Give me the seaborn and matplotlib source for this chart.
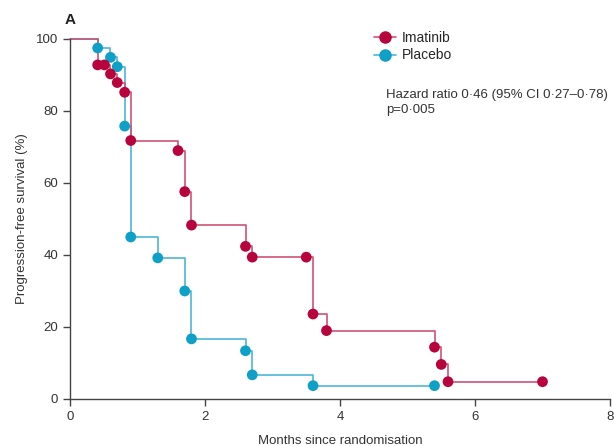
import numpy as np
import pandas as pd
import matplotlib
matplotlib.use("Agg")
import matplotlib.pyplot as plt
import seaborn as sns
from matplotlib.lines import Line2D

# Kaplan-Meier steps (months, % progression-free)
imatinib_months = [0, 0.41, 0.51, 0.60, 0.70, 0.81, 0.90, 1.60, 1.70, 1.80,
                   2.60, 2.70, 3.50, 3.60, 3.80, 5.40, 5.50, 5.60, 7.00]
imatinib_pfs = [100, 92.8, 92.8, 90.3, 87.9, 85.2, 71.8, 69.0, 57.6, 48.3,
                42.4, 39.4, 39.4, 23.6, 19.0, 14.4, 9.6, 4.8, 4.8]

placebo_months = [0, 0.41, 0.60, 0.70, 0.81, 0.90, 1.30, 1.70, 1.80,
                  2.60, 2.70, 3.60, 5.40]
placebo_pfs = [100, 97.5, 94.9, 92.3, 75.8, 45.0, 39.2, 30.0, 16.7,
               13.4, 6.7, 3.7, 3.7]

x_ticks = [0, 2, 4, 6, 8]
y_ticks = [0, 20, 40, 60, 80, 100]

red_dot = "#b8043c"
red_line = "#cc5476"
blue_dot = "#0ea0c6"
blue_line = "#4db6d6"

sns.set_style("ticks")
plt.rcParams['font.family'] = ['Liberation Sans', 'DejaVu Sans']

df_ima = pd.DataFrame({'months': imatinib_months, 'pfs': imatinib_pfs})
df_pla = pd.DataFrame({'months': placebo_months, 'pfs': placebo_pfs})

fig = plt.figure(figsize=(6.14, 4.46), dpi=100)
ax = fig.add_axes([0.114, 0.1054, 0.8795, 0.8072])

sns.lineplot(data=df_pla, x='months', y='pfs', estimator=None, sort=False,
             drawstyle='steps-post', color=blue_line, linewidth=1.2,
             clip_on=False, ax=ax)
sns.lineplot(data=df_ima, x='months', y='pfs', estimator=None, sort=False,
             drawstyle='steps-post', color=red_line, linewidth=1.2,
             clip_on=False, ax=ax)
sns.scatterplot(data=df_pla.iloc[1:], x='months', y='pfs', color=blue_dot,
                s=60, edgecolor='none', zorder=3, clip_on=False, ax=ax)
sns.scatterplot(data=df_ima.iloc[1:], x='months', y='pfs', color=red_dot,
                s=60, edgecolor='none', zorder=4, clip_on=False, ax=ax)

ax.set_xlim(0, 8)
ax.set_ylim(0, 100)
ax.set_xticks(x_ticks)
ax.set_yticks(y_ticks)
ax.tick_params(colors='#444444', labelcolor='#333333', labelsize=9.5,
               length=5, width=1)
for s in ['left', 'bottom']:
    ax.spines[s].set_color('#444444')
    ax.spines[s].set_linewidth(1)
sns.despine(ax=ax)

ax.set_xlabel('Months since randomisation', fontsize=9.5, color='#333333', labelpad=9)
ax.set_ylabel('Progression-free survival (%)', fontsize=9.5, color='#333333', labelpad=6)

fig.text(0.114, 0.955, 'A', fontsize=11, fontweight='bold', color='#222222',
         ha='center', va='center')

handles = [
    Line2D([0], [0], color=red_line, lw=1.2, marker='o', markersize=8,
           markerfacecolor=red_dot, markeredgecolor=red_dot),
    Line2D([0], [0], color=blue_line, lw=1.2, marker='o', markersize=8,
           markerfacecolor=blue_dot, markeredgecolor=blue_dot),
]
ax.legend(handles, ['Imatinib', 'Placebo'], loc='upper left',
          bbox_to_anchor=(0.54, 1.057), frameon=False, fontsize=10,
          handlelength=1.6, handletextpad=0.4, labelspacing=0.25)

ax.text(0.585, 0.86, 'Hazard ratio 0\u00b746 (95% CI 0\u00b727\u20130\u00b778)\np=0\u00b7005',
        transform=ax.transAxes, fontsize=9.5, color='#333333', va='top',
        linespacing=1.3)

fig.savefig('out.png', dpi=100)
